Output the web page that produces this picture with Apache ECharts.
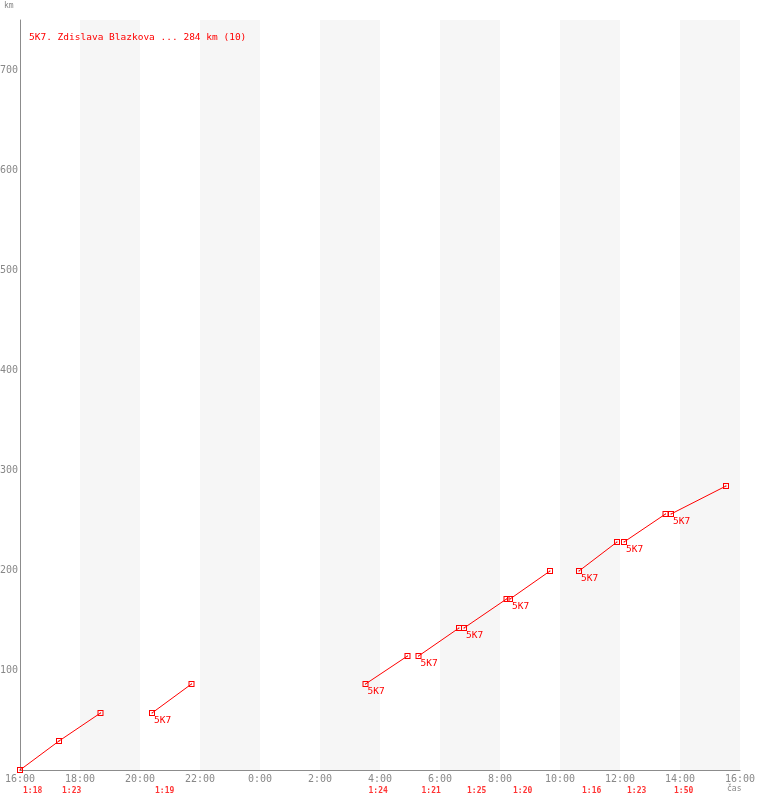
<!DOCTYPE html>
<html><head><meta charset="utf-8">
<script src="https://cdn.jsdelivr.net/npm/echarts@6/dist/echarts.min.js"></script>
<style>html,body{margin:0;padding:0;background:#fff}#c{width:760px;height:800px}</style>
</head><body><div id="c"></div>
<script>
const titleText = "5K7. Zdislava Blazkova ... 284 km (10)";
const yAxisName = "km";
const xAxisName = "čas";
const xTickLabels = ["16:00","18:00","20:00","22:00","0:00","2:00","4:00","6:00","8:00","10:00","12:00","14:00","16:00"];
const segmentTimes = [
  ["16:00","17:18","18:41"],
  ["20:24","21:43"],
  ["03:31","04:55"],
  ["05:17","06:38"],
  ["06:48","08:13"],
  ["08:20","09:40"],
  ["10:38","11:54"],
  ["12:08","13:31"],
  ["13:42","15:32"]
];
const segmentKm = [
  [0,29,57],
  [57,86],
  [86,114],
  [114,142],
  [142,171],
  [171,199],
  [199,228],
  [228,256],
  [256,284]
];
const segmentLabel = "5K7";
const legStarts = ["16:00","17:18","20:24","03:31","05:17","06:48","08:20","10:38","12:08","13:42"];
const legDurations = ["1:18","1:23","1:19","1:24","1:21","1:25","1:20","1:16","1:23","1:50"];

function toH(t){const p=t.split(':');return ((+p[0]+(+p[1])/60-16)+24)%24;}
const MONO = '"DejaVu Sans Mono", "Liberation Mono", monospace';
const RED = '#ff0000';
const markerPath = 'path://M0,0H6V6H0Z M1,1V5H5V1Z M2.5,2.5H3.5V3.5H2.5Z';

const series = segmentTimes.map((ts, si) => ({
  type: 'line',
  data: ts.map((t, i) => {
    const item = { value: [toH(t), segmentKm[si][i]] };
    if (si > 0 && i === 0) {
      item.label = { show: true, formatter: segmentLabel, position: [5, 6], color: RED, fontFamily: MONO, fontSize: 9.5 };
    }
    return item;
  }),
  symbol: markerPath,
  symbolSize: 6,
  showAllSymbol: true,
  lineStyle: { color: RED, width: 1 },
  itemStyle: { color: RED },
  label: { show: false },
  animation: false,
  z: 3
}));

series.push({
  type: 'scatter',
  data: legStarts.map((t, i) => ({ value: [toH(t), 0], label: { formatter: legDurations[i] } })),
  symbolSize: 0,
  clip: false,
  label: { show: true, position: [3, 17], color: RED, fontFamily: MONO, fontSize: 8, fontWeight: 'bold' },
  animation: false,
  silent: true
});

const chart = echarts.init(document.getElementById('c'), null, { renderer: 'canvas' });
chart.setOption({
  backgroundColor: '#fff',
  animation: false,
  title: {
    text: titleText, left: 29, top: 33, padding: 0,
    textStyle: { color: RED, fontFamily: MONO, fontSize: 9.5, fontWeight: 'normal' }
  },
  grid: { left: 20, right: 20, top: 20, bottom: 30, containLabel: false, outerBoundsMode: 'none' },
  xAxis: {
    type: 'value', min: 0, max: 24, interval: 2,
    axisLine: { show: true, lineStyle: { color: '#8c8c8c', width: 1 } },
    axisTick: { show: false },
    splitLine: { show: false },
    splitArea: { show: true, areaStyle: { color: ['#ffffff', '#f6f6f6'] } },
    axisLabel: {
      formatter: v => xTickLabels[Math.round(v / 2)],
      color: '#888', fontFamily: MONO, fontSize: 10, margin: 4
    }
  },
  yAxis: {
    type: 'value', min: 0, max: 750, interval: 100,
    axisLine: { show: true, lineStyle: { color: '#8c8c8c', width: 1 } },
    axisTick: { show: false },
    splitLine: { show: true, showMaxLine: false, lineStyle: { color: '#eeeeee', width: 1 } },
    axisLabel: {
      showMinLabel: false, showMaxLabel: false,
      color: '#888', fontFamily: MONO, fontSize: 10, margin: 2
    }
  },
  graphic: [
    { type: 'text', left: 4, top: 2, style: { text: yAxisName, fill: '#888', font: '8px ' + MONO } },
    { type: 'text', left: 727, top: 785, style: { text: xAxisName, fill: '#888', font: '8px ' + MONO } }
  ],
  series: series
});
</script>
</body></html>
